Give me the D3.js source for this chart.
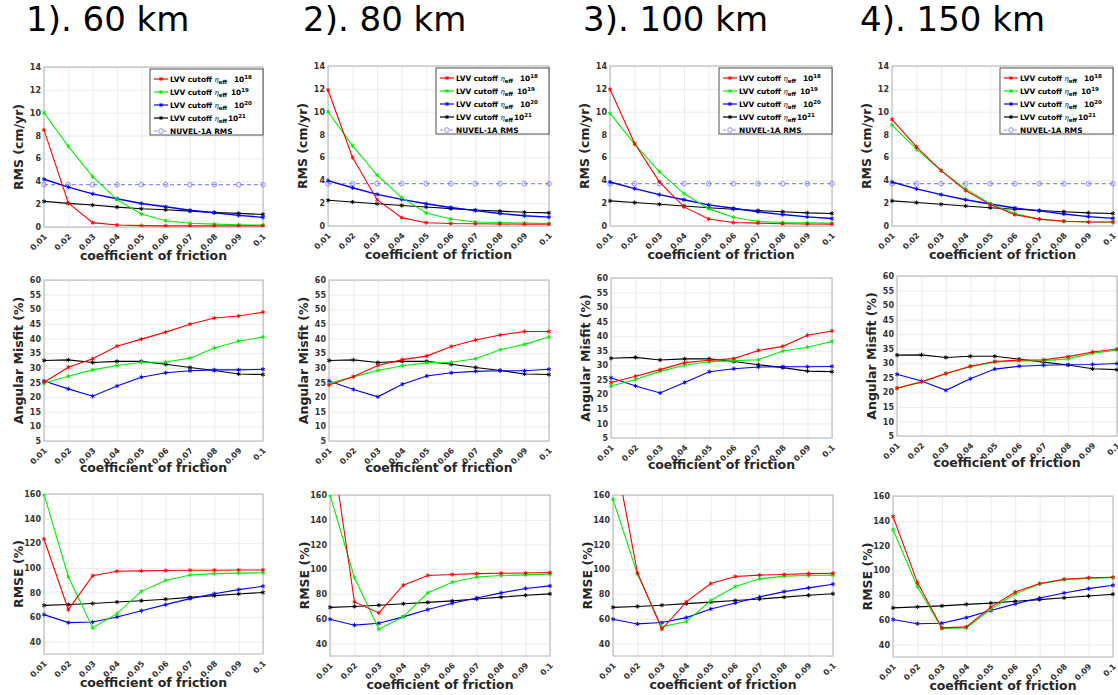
<!DOCTYPE html>
<html>
<head>
<meta charset="utf-8">
<script src="https://cdn.jsdelivr.net/npm/d3@7"></script>
<style>
body { margin: 0; background: #fff; }
svg text { font-family: "DejaVu Sans", sans-serif; }
</style>
</head>
<body>
<div id="chart"></div>
<script>
// ---- data ----
var friction = [0.01, 0.02, 0.03, 0.04, 0.05, 0.06, 0.07, 0.08, 0.09, 0.1];
var titles = ["1). 60 km", "2). 80 km", "3). 100 km", "4). 150 km"];
var exponents = ["18", "19", "20", "21"];
var nuvelRms = 3.7;

// each: [1e18 (red), 1e19 (green), 1e20 (blue), 1e21 (black)]
var rms60 = [
  [8.5, 2.1, 0.38, 0.17, 0.12, 0.1, 0.1, 0.1, 0.1, 0.1],
  [10.0, 7.05, 4.4, 2.4, 1.13, 0.55, 0.33, 0.25, 0.2, 0.17],
  [4.18, 3.49, 2.9, 2.47, 2.06, 1.77, 1.46, 1.25, 1.02, 0.84],
  [2.24, 2.07, 1.92, 1.74, 1.6, 1.51, 1.39, 1.27, 1.19, 1.1]
];
var rms80 = [
  [11.9, 6.0, 2.3, 0.73, 0.29, 0.22, 0.2, 0.18, 0.15, 0.15],
  [10.0, 7.03, 4.46, 2.48, 1.14, 0.61, 0.35, 0.3, 0.25, 0.22],
  [3.97, 3.35, 2.77, 2.33, 1.95, 1.62, 1.35, 1.1, 0.9, 0.78],
  [2.25, 2.1, 1.95, 1.8, 1.66, 1.52, 1.4, 1.3, 1.2, 1.15]
];
var rms100 = [
  [11.96, 7.22, 3.86, 1.67, 0.61, 0.3, 0.25, 0.2, 0.18, 0.15],
  [9.85, 7.16, 4.76, 2.84, 1.52, 0.76, 0.4, 0.3, 0.28, 0.25],
  [3.85, 3.27, 2.75, 2.3, 1.85, 1.55, 1.25, 1.0, 0.8, 0.65],
  [2.2, 2.05, 1.9, 1.75, 1.6, 1.47, 1.35, 1.25, 1.15, 1.1]
];
var rms150 = [
  [9.33, 6.93, 4.85, 3.1, 1.87, 0.99, 0.6, 0.42, 0.35, 0.35],
  [8.83, 6.72, 4.85, 3.25, 1.95, 1.1, 0.6, 0.42, 0.35, 0.33],
  [3.85, 3.25, 2.75, 2.3, 1.93, 1.58, 1.32, 1.05, 0.82, 0.67],
  [2.2, 2.05, 1.9, 1.75, 1.6, 1.47, 1.35, 1.25, 1.15, 1.1]
];

var misfit60 = [
  [25.1, 30.2, 33.1, 37.4, 39.8, 42.2, 44.9, 47.0, 47.7, 49.0],
  [24.7, 27.1, 29.3, 30.8, 31.9, 32.0, 33.3, 36.8, 39.1, 40.5],
  [25.5, 22.8, 20.3, 23.8, 26.8, 28.3, 29.0, 29.3, 29.3, 29.5],
  [32.5, 32.7, 31.8, 32.2, 32.2, 31.2, 30.1, 29.1, 27.9, 27.7]
];
var misfit80 = [
  [24.1, 27.0, 30.8, 32.8, 34.0, 37.3, 39.5, 41.2, 42.4, 42.4],
  [24.6, 26.9, 29.1, 30.7, 31.7, 31.9, 33.1, 36.2, 38.0, 40.5],
  [25.5, 22.6, 20.1, 24.4, 27.2, 28.3, 28.8, 29.0, 29.0, 29.5],
  [32.5, 32.7, 31.8, 32.2, 32.2, 31.2, 30.1, 29.1, 27.9, 27.7]
];
var misfit100 = [
  [24.1, 26.2, 28.5, 30.9, 31.7, 32.3, 35.1, 36.5, 40.3, 41.8],
  [22.9, 25.1, 27.9, 30.0, 31.2, 31.6, 31.9, 34.9, 36.2, 38.2],
  [25.7, 22.9, 20.5, 24.1, 27.8, 28.8, 29.4, 29.5, 29.5, 29.6],
  [32.4, 32.7, 31.8, 32.2, 32.2, 31.3, 30.2, 29.2, 28.0, 27.8]
];
var misfit150 = [
  [21.5, 23.6, 26.5, 29.0, 30.6, 31.1, 31.2, 32.3, 33.9, 34.9],
  [21.3, 23.5, 26.4, 28.8, 30.4, 30.8, 30.9, 31.5, 33.5, 34.5],
  [26.2, 23.9, 20.7, 24.7, 28.0, 29.0, 29.3, 29.5, 29.6, 29.9],
  [32.8, 32.9, 32.0, 32.4, 32.4, 31.4, 30.4, 29.4, 28.1, 27.8]
];

var rmse60 = [
  [123.4, 66.0, 93.6, 97.2, 97.5, 97.8, 98.0, 98.0, 98.2, 98.3],
  [160, 92.8, 51.4, 62.8, 80.9, 89.8, 94.2, 95.3, 95.7, 96.0],
  [62.0, 55.5, 56.0, 60.1, 65.2, 70.1, 75.0, 79.0, 82.3, 85.0],
  [69.5, 70.2, 71.0, 72.2, 73.3, 74.5, 76.0, 77.4, 78.8, 80.0]
];
var rmse80 = [
  [210, 73.7, 64.8, 87.2, 95.0, 95.8, 96.5, 96.8, 97.0, 97.3],
  [160, 93.4, 51.6, 61.6, 81.0, 89.6, 93.8, 95.0, 95.5, 96.0],
  [59.7, 54.9, 56.4, 61.6, 67.5, 72.6, 76.9, 81.0, 84.5, 86.6],
  [69.3, 70.0, 71.0, 72.2, 73.3, 74.5, 76.0, 77.5, 79.0, 80.2]
];
var rmse100 = [
  [202, 97.2, 51.6, 73.7, 88.5, 94.2, 95.3, 95.8, 96.5, 96.8],
  [156.5, 96.1, 53.5, 57.8, 74.8, 86.1, 92.3, 94.5, 95.0, 95.3],
  [59.7, 55.9, 57.0, 61.0, 68.0, 72.8, 77.7, 82.0, 85.0, 88.0],
  [69.3, 70.0, 71.0, 72.3, 73.5, 74.8, 76.0, 77.5, 79.0, 80.3]
];
var rmse150 = [
  [143.5, 90.1, 53.5, 54.3, 70.3, 82.5, 89.3, 92.8, 94.0, 94.3],
  [132.9, 86.8, 53.0, 53.5, 68.5, 81.0, 89.0, 92.5, 93.5, 94.3],
  [60.3, 56.9, 57.3, 61.8, 67.5, 72.9, 77.6, 81.7, 85.2, 87.9],
  [69.7, 70.5, 71.3, 72.5, 73.5, 75.0, 76.3, 77.8, 79.3, 80.7]
];

var rmsTicks = [0, 2, 4, 6, 8, 10, 12, 14];
var misfitTicks = [5, 10, 15, 20, 25, 30, 35, 40, 45, 50, 55, 60];
var rmseTicks = [40, 60, 80, 100, 120, 140, 160];

// ---- layout ----
var colors = ["#ff0000", "#00ee00", "#0000ff", "#000000"];
var nuvelColor = "#8c8cff";

var rows = [
  {label: "RMS (cm/yr)", domain: [0, 14], ticks: rmsTicks, sets: [rms60, rms80, rms100, rms150], xlab: 33,
   boxes: [[44, 263, 67, 227], [328, 549, 66, 226], [610, 832, 66, 226], [892, 1113, 66, 226]]},
  {label: "Angular Misfit (%)", domain: [5, 60], ticks: misfitTicks, sets: [misfit60, misfit80, misfit100, misfit150], xlab: 31,
   boxes: [[44, 263, 280, 441], [329, 549, 280, 441], [611, 832, 278, 438], [897, 1117, 276, 436]]},
  {label: "RMSE (%)", domain: [30, 160], ticks: rmseTicks, sets: [rmse60, rmse80, rmse100, rmse150], xlab: 33,
   boxes: [[44, 263, 494, 654], [330, 550, 495, 656], [613, 833, 495, 656], [893, 1113, 496, 657]]}
];
var titleX = [26, 303, 583, 860];
var legendGap = [7, 4, 7, 1];

var svg = d3.select("#chart").append("svg")
    .attr("width", 1118)
    .attr("height", 695);

titles.forEach(function(t, i) {
  svg.append("text")
      .attr("x", titleX[i])
      .attr("y", 31)
      .attr("font-size", 34)
      .attr("fill", "#000")
      .text(t);
});

var clipId = 0;

rows.forEach(function(row, r) {
  row.sets.forEach(function(set, c) {
    var b = row.boxes[c];
    drawPanel({l: b[0], r: b[1], t: b[2], b: b[3]}, row, set, r === 0);
  });
});

function drawPanel(box, row, set, withLegend) {
  var x = d3.scaleLinear().domain([0.01, 0.1]).range([box.l, box.r]);
  var y = d3.scaleLinear().domain(row.domain).range([box.b, box.t]);
  var g = svg.append("g");

  // grid
  g.append("g")
      .attr("transform", "translate(0," + box.b + ")")
      .call(d3.axisBottom(x).tickValues(friction).tickSize(-(box.b - box.t)).tickFormat(""))
      .call(function(s) {
        s.select(".domain").remove();
        s.selectAll("line").attr("stroke", "#ebebeb");
      });
  g.append("g")
      .attr("transform", "translate(" + box.l + ",0)")
      .call(d3.axisLeft(y).tickValues(row.ticks).tickSize(-(box.r - box.l)).tickFormat(""))
      .call(function(s) {
        s.select(".domain").remove();
        s.selectAll("line").attr("stroke", "#ebebeb");
      });

  // box
  g.append("rect")
      .attr("x", box.l).attr("y", box.t)
      .attr("width", box.r - box.l).attr("height", box.b - box.t)
      .attr("fill", "none").attr("stroke", "#b4b4b4");

  // x tick labels
  g.append("g")
      .attr("transform", "translate(0," + box.b + ")")
      .call(d3.axisBottom(x).tickValues(friction).tickSize(0)
            .tickFormat(function(d) { return d === 0.1 ? "0.1" : d3.format(".2f")(d); }))
      .call(function(s) {
        s.select(".domain").remove();
        s.selectAll("text")
            .attr("x", 0).attr("y", 0).attr("dy", 0)
            .attr("transform", "translate(3,10) rotate(-45)")
            .attr("text-anchor", "end")
            .attr("font-size", 8)
            .attr("font-weight", "bold")
            .attr("font-family", "DejaVu Sans")
            .attr("fill", "#333");
      });

  // y tick labels
  g.append("g")
      .attr("transform", "translate(" + box.l + ",0)")
      .call(d3.axisLeft(y).tickValues(row.ticks).tickSize(0).tickPadding(3))
      .call(function(s) {
        s.select(".domain").remove();
        s.selectAll("text")
            .attr("font-size", 8)
            .attr("font-weight", "bold")
            .attr("font-family", "DejaVu Sans")
            .attr("fill", "#333");
      });

  // axis titles
  g.append("text")
      .attr("x", (box.l + box.r) / 2)
      .attr("y", box.b + row.xlab)
      .attr("text-anchor", "middle")
      .attr("font-size", 12.5)
      .attr("font-weight", "bold")
      .attr("fill", "#262626")
      .text("coefficient of friction");
  g.append("text")
      .attr("transform", "translate(" + (box.l - 21) + "," + ((box.t + box.b) / 2) + ") rotate(-90)")
      .attr("text-anchor", "middle")
      .attr("font-size", 12.5)
      .attr("font-weight", "bold")
      .attr("fill", "#262626")
      .text(row.label);

  // clip
  clipId++;
  g.append("clipPath").attr("id", "clip" + clipId)
    .append("rect")
      .attr("x", box.l - 4).attr("y", box.t)
      .attr("width", box.r - box.l + 8).attr("height", box.b - box.t);
  var plot = g.append("g").attr("clip-path", "url(#clip" + clipId + ")");

  var line = d3.line()
      .x(function(d, i) { return x(friction[i]); })
      .y(function(d) { return y(d); });

  var star = d3.symbol().type(d3.symbolAsterisk).size(12);

  if (withLegend) {
    var nuvel = friction.map(function() { return nuvelRms; });
    plot.append("path")
        .attr("d", line(nuvel))
        .attr("fill", "none")
        .attr("stroke", nuvelColor)
        .attr("stroke-width", 1.2)
        .attr("stroke-dasharray", "4,3");
    plot.selectAll("circle.nuvel")
        .data(nuvel).enter()
        .append("circle")
        .attr("class", "nuvel")
        .attr("cx", function(d, i) { return x(friction[i]); })
        .attr("cy", function(d) { return y(d); })
        .attr("r", 2.3)
        .attr("fill", "none")
        .attr("stroke", nuvelColor);
  }

  // draw black first so colours sit on top like the figure
  [3, 2, 1, 0].forEach(function(k) {
    var vals = set[k];
    plot.append("path")
        .attr("d", line(vals))
        .attr("fill", "none")
        .attr("stroke", colors[k])
        .attr("stroke-width", k === 2 && withLegend ? 1.4 : 1.1);
    plot.selectAll("path.m" + k)
        .data(vals).enter()
        .append("path")
        .attr("class", "m" + k)
        .attr("d", star)
        .attr("transform", function(d, i) { return "translate(" + x(friction[i]) + "," + y(d) + ")"; })
        .attr("fill", "none")
        .attr("stroke", colors[k])
        .attr("stroke-width", 1);
  });

  if (withLegend) drawLegend(box);
}

function drawLegend(box) {
  var lw = 113, lx = box.r - lw, ly = box.t + 2;
  var lg = svg.append("g");
  lg.append("rect")
      .attr("x", lx).attr("y", ly)
      .attr("width", lw).attr("height", 66)
      .attr("fill", "#fff")
      .attr("stroke", "#262626")
      .attr("stroke-width", 0.8);

  var rowY = d3.scalePoint().domain(d3.range(5)).range([ly + 10, ly + 62]);
  var star = d3.symbol().type(d3.symbolAsterisk).size(12);

  exponents.forEach(function(e, k) {
    var yy = rowY(k);
    lg.append("line")
        .attr("x1", lx + 4).attr("x2", lx + 18)
        .attr("y1", yy).attr("y2", yy)
        .attr("stroke", colors[k]).attr("stroke-width", 1.2);
    lg.append("path")
        .attr("d", star)
        .attr("transform", "translate(" + (lx + 11) + "," + yy + ")")
        .attr("fill", "none").attr("stroke", colors[k]);
    var t = lg.append("text")
        .attr("x", lx + 20)
        .attr("y", yy + 2.5)
        .attr("font-size", 7.4)
        .attr("font-weight", "bold")
        .attr("fill", "#000");
    t.append("tspan").text("LVV cutoff ");
    t.append("tspan")
        .attr("font-family", "DejaVu Serif")
        .attr("font-style", "italic")
        .attr("font-weight", "normal")
        .attr("font-size", 7)
        .text("\u03b7");
    t.append("tspan").attr("dy", 2).attr("font-size", 5.5).text("eff");
    t.append("tspan").attr("dy", -2).attr("dx", legendGap[k]).text("10");
    t.append("tspan").attr("dy", -3).attr("font-size", 5.5).text(e);
  });

  var ny = rowY(4);
  lg.append("line")
      .attr("x1", lx + 4).attr("x2", lx + 18)
      .attr("y1", ny).attr("y2", ny)
      .attr("stroke", nuvelColor).attr("stroke-width", 1.2)
      .attr("stroke-dasharray", "3,2");
  lg.append("circle")
      .attr("cx", lx + 11).attr("cy", ny).attr("r", 2.3)
      .attr("fill", "#fff").attr("stroke", nuvelColor);
  lg.append("text")
      .attr("x", lx + 20)
      .attr("y", ny + 2.5)
      .attr("font-size", 7.4)
      .attr("font-weight", "bold")
      .attr("fill", "#000")
      .text("NUVEL-1A RMS");
}
</script>
</body>
</html>
